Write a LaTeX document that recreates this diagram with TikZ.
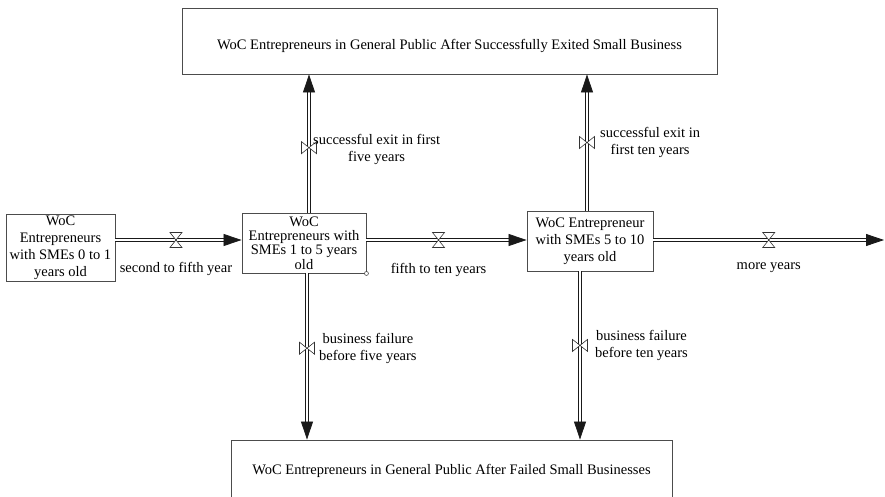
\documentclass[tikz,border=0pt]{standalone}
\usepackage{fontspec}
\setmainfont{Liberation Serif}
\usetikzlibrary{positioning, arrows.meta}
\tikzstyle{pipe} = [double=white, double distance=2.4pt, line width=0.8pt, draw=black!90, -{Triangle[length=18pt,width=12pt]}]

\begin{document}
\begin{tikzpicture}
        [
            x=1pt, y=-1pt,
            box/.style={rectangle, draw=black!70, line width=0.9pt, align=center, inner sep=0pt, font=\fontsize{14.5}{17}\selectfont},
            lbl/.style={align=center, inner sep=1pt, font=\fontsize{14.5}{17}\selectfont},
            valveh/.pic={\filldraw[fill=white, draw=black!80, line width=0.6pt] (-6,-7.5) -- (6,-7.5) -- (-6,7.5) -- (6,7.5) -- cycle;},
            valvev/.pic={\filldraw[fill=white, draw=black!80, line width=0.6pt] (-7.5,-6) -- (-7.5,6) -- (7.5,-6) -- (7.5,6) -- cycle;},
        ]
    \useasboundingbox (0,0) rectangle (885,497);
    \coordinate (row) at (0,240);
    \coordinate (sink) at (884,240);

    % stocks
    \node[box, minimum width=109pt, minimum height=67pt] (young) at (60.5,247.5) {WoC\\Entrepreneurs\\with SMEs 0 to 1\\years old};
    \node[box, minimum width=124pt, minimum height=60pt, font=\fontsize{14.5}{14.2}\selectfont] (mid) at (304,243) {WoC\\Entrepreneurs with\\SMEs 1 to 5 years\\old};
    \node[box, minimum width=126pt, minimum height=60pt] (old) at (590,241) {WoC Entrepreneur\\with SMEs 5 to 10\\years old};
    \node[box, minimum width=535pt, minimum height=66pt, text height=18pt, text depth=0pt] (exited) at (449.5,41) {WoC Entrepreneurs in General Public After Successfully Exited Small Business};
    \node[box, minimum width=441pt, minimum height=58pt, text height=12pt, text depth=2pt] (failed) at (451.5,469) {WoC Entrepreneurs in General Public After Failed Small Businesses};
    \filldraw[fill=white, draw=black!70, line width=0.6pt] (mid.south east) circle (2pt);

    % flows
    \draw[pipe] (young.east |- row) -- coordinate[pos=.48] (v1) (mid.west |- row);
    \draw[pipe] (mid.east |- row) -- coordinate[pos=.45] (v2) (old.west |- row);
    \draw[pipe] (old.east |- row) -- coordinate[pos=.5] (v3) (sink);
    \draw[pipe] ([xshift=5pt]mid.north) -- coordinate[pos=.47] (v4) ([xshift=5pt]mid.north |- exited.south);
    \draw[pipe] ([xshift=-3pt]old.north) -- coordinate[pos=.5] (v5) ([xshift=-3pt]old.north |- exited.south);
    \draw[pipe] ([xshift=3pt]mid.south) -- coordinate[pos=.45] (v6) ([xshift=3pt]mid.south |- failed.north);
    \draw[pipe] ([xshift=-10pt]old.south) -- coordinate[pos=.44] (v7) ([xshift=-10pt]old.south |- failed.north);

    % valves
    \foreach \v in {v1,v2,v3}
        \pic at (\v) {valveh};
    \foreach \v in {v4,v5,v6,v7}
        \pic at (\v) {valvev};

    % rates
    \node[lbl, below=21pt of v1] (l1) {second to fifth year};
    \node[lbl, below=22pt of v2] (l2) {fifth to ten years};
    \node[lbl, below=21pt of v3] (l3) {more years};
    \node[lbl, right=3pt of v4, yshift=-2pt] (l4) {successful exit in first\\five years};
    \node[lbl, right=12pt of v5] (l5) {successful exit in\\first ten years};
    \node[lbl, right=11pt of v6] (l6) {business failure\\before five years};
    \node[lbl, right=14pt of v7] (l7) {business failure\\before ten years};
\end{tikzpicture}
\end{document}
